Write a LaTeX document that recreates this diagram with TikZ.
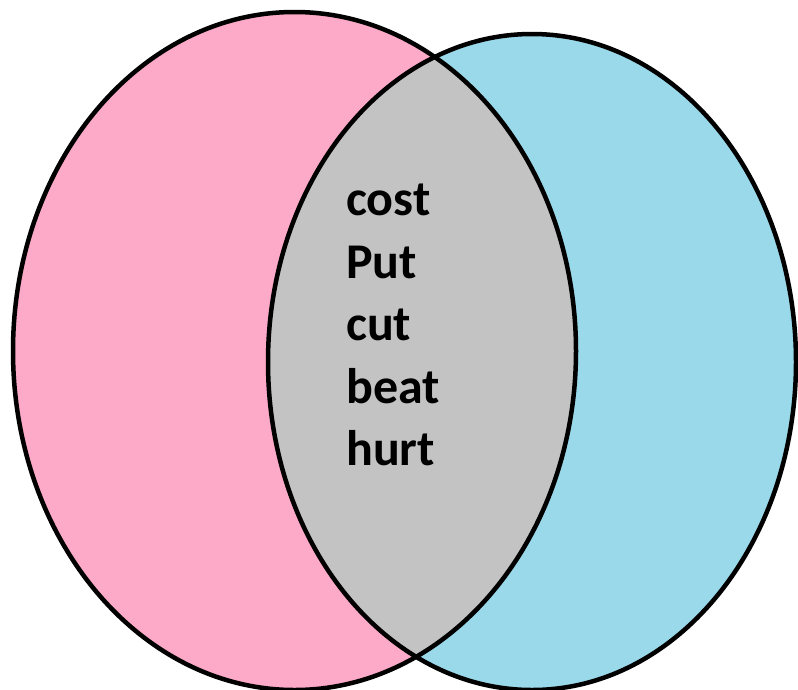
\documentclass[tikz,border=0pt]{standalone}
\usepackage{fontspec}
\setmainfont{Carlito}
\definecolor{pinkset}{RGB}{252,170,200}
\definecolor{blueset}{RGB}{154,217,234}
\definecolor{graymid}{RGB}{195,195,195}
\begin{document}
\begin{tikzpicture}[x=1pt,y=-1pt,
  outline/.style={draw=black,line width=4.5pt},
  word/.style={anchor=base west,inner sep=0pt,font=\fontsize{50}{60}\selectfont\bfseries}]
\useasboundingbox (0,0) rectangle (798,689);
\begin{scope}
\clip (0,0) rectangle (798,689);
\fill[pinkset] (294.5,351) ellipse [x radius=281.5,y radius=339];
\fill[blueset] (532,362) ellipse [x radius=264,y radius=328];
\begin{scope}
  \clip (294.5,351) ellipse [x radius=281.5,y radius=339];
  \fill[graymid] (532,362) ellipse [x radius=264,y radius=328];
\end{scope}
\draw[outline] (294.5,351) ellipse [x radius=281.5,y radius=339];
\draw[outline] (532,362) ellipse [x radius=264,y radius=328];
\end{scope}
\node[word] (w1) at (346,215) {cost};
\node[word] (w2) at (346,278) {Put};
\node[word] (w3) at (346,340) {cut};
\node[word] (w4) at (346,403) {beat};
\node[word] (w5) at (346,465) {hurt};
\end{tikzpicture}
\end{document}
